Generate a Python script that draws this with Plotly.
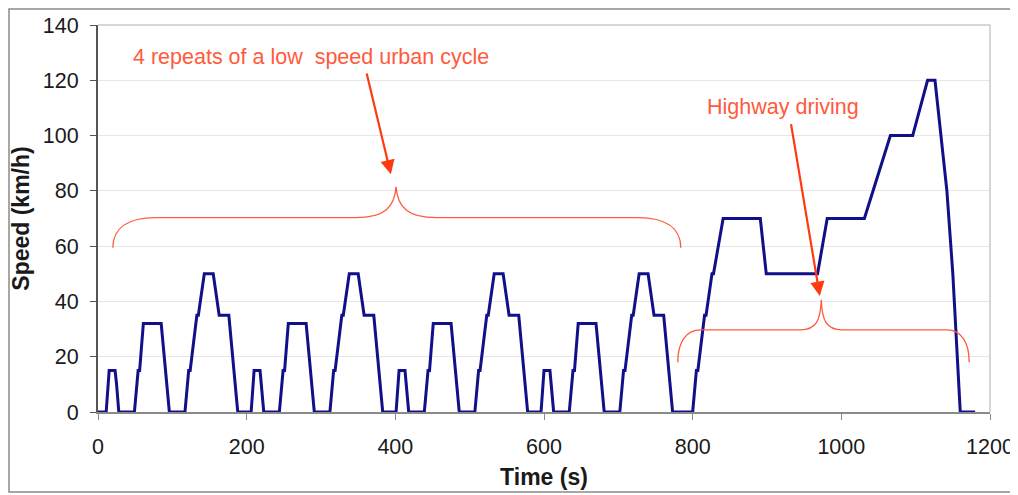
import plotly.graph_objects as go

# NEDC speed profile breakpoints (time in s, speed in km/h)
time_s = [0, 11, 15, 23, 25, 28, 49, 54, 56, 61, 85, 93, 96, 117, 122, 124, 133, 135, 143, 155, 163, 176, 185, 188,
          206, 210, 218, 220, 223, 244, 249, 251, 256, 280, 288, 291, 312, 317, 319, 328, 330, 338, 350, 358, 371, 380, 383,
          401, 405, 413, 415, 418, 439, 444, 446, 451, 475, 483, 486, 507, 512, 514, 523, 525, 533, 545, 553, 566, 575, 578,
          596, 600, 608, 610, 613, 634, 639, 641, 646, 670, 678, 681, 702, 707, 709, 718, 720, 728, 740, 748, 761, 770, 773,
          800, 805, 807, 816, 818, 826, 828, 841, 891, 899, 968, 981, 1031, 1066, 1096, 1116, 1126, 1142, 1150, 1160, 1180]
speed_kmh = [0, 0, 15, 15, 10, 0, 0, 15, 15, 32, 32, 10, 0, 0, 15, 15, 35, 35, 50, 50, 35, 35, 10, 0,
             0, 15, 15, 10, 0, 0, 15, 15, 32, 32, 10, 0, 0, 15, 15, 35, 35, 50, 50, 35, 35, 10, 0,
             0, 15, 15, 10, 0, 0, 15, 15, 32, 32, 10, 0, 0, 15, 15, 35, 35, 50, 50, 35, 35, 10, 0,
             0, 15, 15, 10, 0, 0, 15, 15, 32, 32, 10, 0, 0, 15, 15, 35, 35, 50, 50, 35, 35, 10, 0,
             0, 15, 15, 35, 35, 50, 50, 70, 70, 50, 50, 70, 70, 100, 100, 120, 120, 80, 50, 0, 0]

x_ticks = [0, 200, 400, 600, 800, 1000, 1200]
y_ticks = [0, 20, 40, 60, 80, 100, 120, 140]

label_urban = "4 repeats of a low  speed urban cycle"
label_highway = "Highway driving"

RED = "#ff5a3c"
ARROW = "#ff3a10"
FONT = "Liberation Sans, Arial"

fig = go.Figure()
fig.add_trace(go.Scatter(x=time_s, y=speed_kmh, mode="lines",
                         line=dict(color="#10108a", width=3), hoverinfo="skip", showlegend=False))

brace_urban = ("M 20,59.4 C 20,66.5 40,70.3 78,70.3 L 347,70.3 "
               "C 385,70.3 399,74 401,81.5 C 403,74 417,70.3 455,70.3 "
               "L 726,70.3 C 764,70.3 784,66.5 784,59.4")
brace_highway = ("M 780,18 C 780,25 790,29.7 811,29.7 L 945,29.7 "
                 "C 966,29.7 972,33 973,40.6 C 974,33 980,29.7 1001,29.7 "
                 "L 1142,29.7 C 1162,29.7 1172,25 1172,18")

shapes = [
    dict(type="path", path=brace_urban, xref="x", yref="y", line=dict(color=RED, width=1.3)),
    dict(type="path", path=brace_highway, xref="x", yref="y", line=dict(color=RED, width=1.3)),
    # plot area border (top/right)
    dict(type="line", xref="paper", yref="paper", x0=0, x1=1, y0=1, y1=1, line=dict(color="#c8c8c8", width=1.5)),
    dict(type="line", xref="paper", yref="paper", x0=1, x1=1, y0=0, y1=1, line=dict(color="#c8c8c8", width=1.5)),
    # outer frame
    dict(type="rect", xref="paper", yref="paper", x0=-89/892, x1=1+25/892, y0=-80/387, y1=1+16/387,
         line=dict(color="#8a8a8a", width=1.5)),
]

annotations = [
    dict(x=287, y=128.6, xref="x", yref="y", text=label_urban, showarrow=False,
         font=dict(family=FONT, size=21.5, color=RED)),
    dict(x=922, y=110.5, xref="x", yref="y", text=label_highway, showarrow=False,
         font=dict(family=FONT, size=21.5, color=RED)),
    dict(x=394, y=86, ax=361, ay=123, xref="x", yref="y", axref="x", ayref="y", text="",
         showarrow=True, arrowhead=2, arrowsize=1.3, arrowwidth=2.2, arrowcolor=ARROW),
    dict(x=971, y=42, ax=932, ay=104.7, xref="x", yref="y", axref="x", ayref="y", text="",
         showarrow=True, arrowhead=2, arrowsize=1.3, arrowwidth=2.2, arrowcolor=ARROW),
]

# page body has an 8px margin, so the figure is sized/offset to compensate
fig.update_layout(
    width=1010, height=487,
    margin=dict(l=90, r=28, t=17, b=83),
    paper_bgcolor="white", plot_bgcolor="white",
    font=dict(family=FONT, size=21, color="#1a1a1a"),
    shapes=shapes, annotations=annotations,
    xaxis=dict(range=[0, 1200], tickvals=x_ticks, showgrid=False, zeroline=False, automargin=False,
               showline=True, linecolor="#8a8a8a", linewidth=1.5,
               ticks="outside", ticklen=6, tickcolor="#8a8a8a", ticklabelstandoff=8,
               title=dict(text="<b>Time (s)</b>", font=dict(size=23), standoff=11),
               tickfont=dict(size=21.5)),
    yaxis=dict(range=[0, 140], tickvals=y_ticks, showgrid=True, gridcolor="#e6e6e6", gridwidth=1,
               zeroline=False, showline=True, linecolor="#555555", linewidth=2, automargin=False,
               ticks="outside", ticklen=6, tickcolor="#555555", ticklabelstandoff=7,
               title=dict(text="<b>Speed (km/h)</b>", font=dict(size=23), standoff=11),
               tickfont=dict(size=21.5)),
)

fig.write_html("out.html")
